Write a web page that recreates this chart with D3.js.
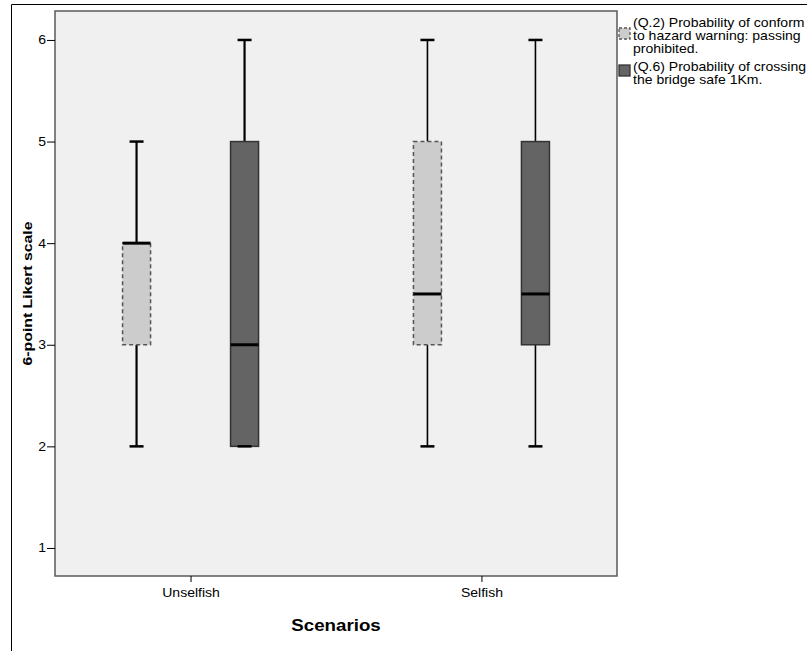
<!DOCTYPE html>
<html><head><meta charset="utf-8">
<script src="https://cdn.jsdelivr.net/npm/d3@7"></script>
<style>body{margin:0;background:#fff;}svg{display:block;font-family:"Liberation Sans",Arial,sans-serif;}</style>
</head><body>
<svg id="c" width="807" height="651"></svg>
<script>
const scenarios = ["Unselfish", "Selfish"];
const seriesNames = ["(Q.2) Probability of conform to hazard warning: passing prohibited.",
                     "(Q.6) Probability of crossing the bridge safe 1Km."];
const legendLines = [["(Q.2) Probability of conform", "to hazard warning: passing", "prohibited."],
                     ["(Q.6) Probability of crossing", "the bridge safe 1Km."]];
// [min, q1, median, q3, max] per scenario
const q2Stats = [[2, 3, 4, 4, 5], [2, 3, 3.5, 5, 6]];
const q6Stats = [[2, 2, 3, 5, 6], [2, 3, 3.5, 5, 6]];
const yTicks = [1, 2, 3, 4, 5, 6];

const SX = 1.17; // horizontal text stretch seen in the reference
const svg = d3.select("#c");
const L = 55, R = 617, T = 11, B = 576;

// outer frame
svg.append("path").attr("d", "M11.5,651 V4.5 H807").attr("fill", "none").attr("stroke", "#000").attr("stroke-width", 1);

const x = d3.scalePoint().domain(scenarios).range([L, R]).padding(0.466);
const xs = d3.scalePoint().domain([0, 1]).range([-54, 54]);
const y = d3.scaleLinear().domain([0.724, 6.285]).range([B, T]);

svg.append("rect").attr("x", L).attr("y", T).attr("width", R - L).attr("height", B - T)
  .attr("fill", "#f0f0f0").attr("stroke", "#5a5a5a").attr("stroke-width", 1.5);

// axes
const ya = svg.append("g").attr("transform", `translate(${L},0)`)
  .call(d3.axisLeft(y).tickValues(yTicks).tickSize(8).tickPadding(2).tickFormat(d3.format("d")));
ya.select(".domain").remove();
ya.selectAll("text").attr("font-size", 12).attr("fill", "#000").attr("transform", `scale(${SX},1)`).attr("x", -7.7);
ya.selectAll("line").attr("stroke", "#000");

const xa = svg.append("g").attr("transform", `translate(0,${B})`)
  .call(d3.axisBottom(x).tickSize(6).tickPadding(6));
xa.select(".domain").remove();
xa.selectAll("text").attr("font-size", 12).attr("fill", "#000").attr("transform", `scale(${SX},1)`);
xa.selectAll("line").attr("stroke", "#000");

svg.append("text").attr("transform", `translate(336,631) scale(${SX},1)`).attr("text-anchor", "middle")
  .attr("font-size", 16).attr("font-weight", "bold").text("Scenarios");
svg.append("text").attr("transform", `translate(32,${(T + B) / 2}) rotate(-90) scale(${SX},1)`).attr("text-anchor", "middle")
  .attr("font-size", 13.5).attr("font-weight", "bold").text("6-point Likert scale");

const styles = [
  {fill: "#cccccc", stroke: "#555", dash: "4,3"},
  {fill: "#646464", stroke: "#333", dash: null}
];
const allStats = [q2Stats, q6Stats];
const bw = 28, cw = 14;

scenarios.forEach((sc, i) => {
  const wW = i === 0 ? 2.2 : 1.6;
  allStats.forEach((stats, s) => {
    const [mn, q1, md, q3, mx] = stats[i];
    const cx = x(sc) + xs(s);
    const g = svg.append("g");
    g.append("line").attr("x1", cx).attr("x2", cx).attr("y1", y(mx)).attr("y2", y(q3)).attr("stroke", "#000").attr("stroke-width", wW);
    g.append("line").attr("x1", cx).attr("x2", cx).attr("y1", y(q1)).attr("y2", y(mn)).attr("stroke", "#000").attr("stroke-width", wW);
    g.append("rect").attr("x", cx - bw / 2).attr("y", y(q3)).attr("width", bw).attr("height", y(q1) - y(q3))
      .attr("fill", styles[s].fill).attr("stroke", styles[s].stroke).attr("stroke-width", 1.5)
      .attr("stroke-dasharray", styles[s].dash);
    [mn, mx].forEach(v => g.append("line").attr("x1", cx - cw / 2).attr("x2", cx + cw / 2).attr("y1", y(v)).attr("y2", y(v))
      .attr("stroke", "#000").attr("stroke-width", 2.5));
    g.append("line").attr("x1", cx - bw / 2).attr("x2", cx + bw / 2).attr("y1", y(md)).attr("y2", y(md))
      .attr("stroke", "#000").attr("stroke-width", 3);
  });
});

// legend
const lg = svg.append("g");
const swY = [28, 65];
legendLines.forEach((lines, s) => {
  lg.append("rect").attr("x", 619).attr("y", swY[s]).attr("width", 11).attr("height", 11)
    .attr("fill", styles[s].fill).attr("stroke", styles[s].stroke).attr("stroke-width", 1.3)
    .attr("stroke-dasharray", styles[s].dash ? "3,2" : null);
  lines.forEach((t, k) => {
    lg.append("text").attr("transform", `translate(633,${(s === 0 ? 27 : 71) + k * 13}) scale(${SX},1)`)
      .attr("font-size", 12).attr("fill", "#000").text(t);
  });
});
</script>
</body></html>
